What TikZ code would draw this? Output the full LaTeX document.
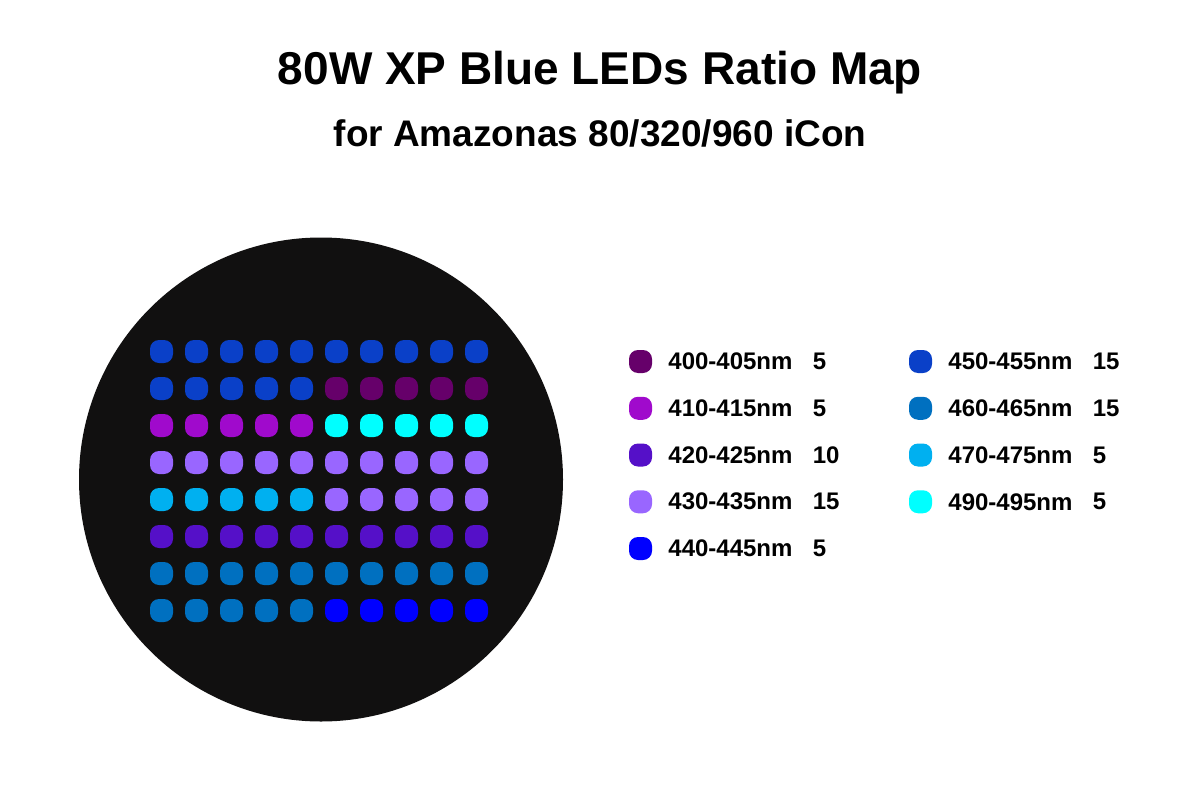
\documentclass[tikz,border=0pt]{standalone}
\usepackage{fontspec}
\setmainfont{Liberation Sans}
\usepackage{xcolor}
\usetikzlibrary{positioning}

\definecolor{panel}{HTML}{111010}
\definecolor{b400}{HTML}{66006A}
\definecolor{b410}{HTML}{A00ACC}
\definecolor{b420}{HTML}{5510C8}
\definecolor{b430}{HTML}{9966FF}
\definecolor{b440}{HTML}{0000FF}
\definecolor{b450}{HTML}{0A40C8}
\definecolor{b460}{HTML}{0070C0}
\definecolor{b470}{HTML}{00B0F0}
\definecolor{b490}{HTML}{00FFFF}

\begin{document}
\begin{tikzpicture}[
        x=1pt,y=-1pt,
        led/.style={rectangle,rounded corners=9pt,minimum size=23pt,inner sep=0pt},
        legtext/.style={inner sep=0pt,font=\bfseries\fontsize{24}{28}\selectfont},
        headline/.style={inner sep=0pt,font=\bfseries\fontsize{46}{52}\selectfont},
        subline/.style={inner sep=0pt,font=\bfseries\fontsize{37}{42}\selectfont}
    ]
        \useasboundingbox[fill=white] (0,0) rectangle (1200,800);

        \node[headline] (title) at (600,73) {80W XP Blue LEDs Ratio Map};
        \node[subline] (subtitle) at (600,133) {for Amazonas 80/320/960 iCon};

        % lamp body
        \fill[panel] (321,479.5) circle (242);

        % LED grid, left half / right half colour per row
        \foreach \lc/\rc [count=\r from 0] in {b450/b450,b450/b400,b410/b490,b430/b430,b470/b430,b420/b420,b460/b460,b460/b440}{
            \foreach \c in {0,...,4}
                \node[led,fill=\lc] (led-\r-\c) at (161.5+35*\c,351.5+37*\r) {};
            \foreach \c in {5,...,9}
                \node[led,fill=\rc] (led-\r-\c) at (161.5+35*\c,351.5+37*\r) {};
        }

        % legend
        \foreach \wl/\cnt/\col [count=\i from 0] in {400-405nm/5/b400,410-415nm/5/b410,420-425nm/10/b420,430-435nm/15/b430,440-445nm/5/b440}{
            \node[led,fill=\col] (keyL-\i) at (640.5,361.5+46.75*\i) {};
            \node[legtext,right=16pt of keyL-\i] (nameL-\i) {\wl};
            \node[legtext,right=20pt of nameL-\i] (cntL-\i) {\cnt};
        }
        \foreach \wl/\cnt/\col [count=\i from 0] in {450-455nm/15/b450,460-465nm/15/b460,470-475nm/5/b470,490-495nm/5/b490}{
            \node[led,fill=\col] (keyR-\i) at (920.5,361.5+46.75*\i) {};
            \node[legtext,right=16pt of keyR-\i] (nameR-\i) {\wl};
            \node[legtext,right=20pt of nameR-\i] (cntR-\i) {\cnt};
        }
    \end{tikzpicture}
\end{document}
